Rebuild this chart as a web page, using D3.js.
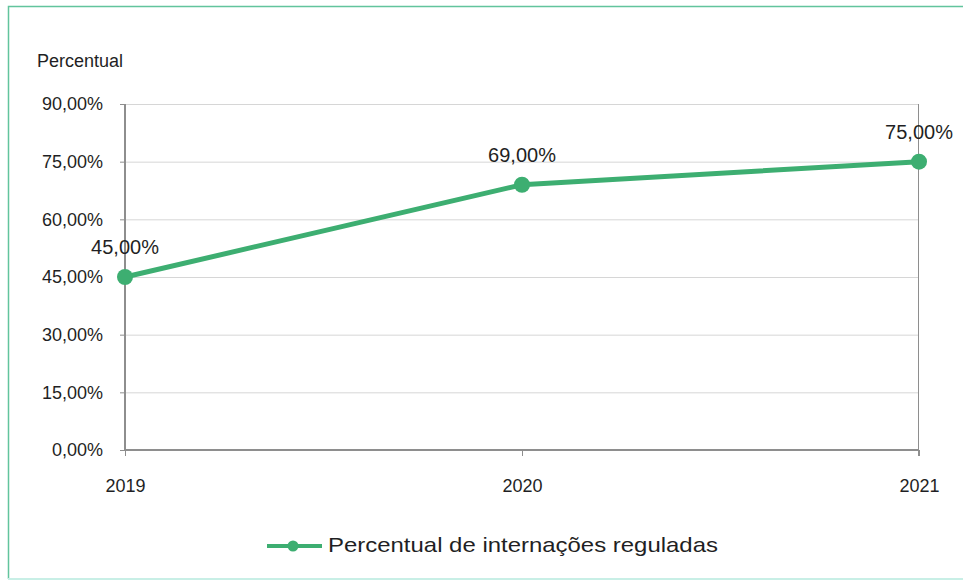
<!DOCTYPE html>
<html>
<head>
<meta charset="utf-8">
<script src="https://cdn.jsdelivr.net/npm/d3@7"></script>
<style>
  body { margin: 0; background: #fff; }
  svg { display: block; font-family: 'Liberation Sans', Arial, sans-serif; }
</style>
</head>
<body>
<div id="graph"></div>
<script>
const years = ['2019', '2020', '2021'];
const values = [45, 69, 75];
const yTicks = [0, 15, 30, 45, 60, 75, 90];
const seriesName = 'Percentual de internações reguladas';
const yTitle = 'Percentual';

const W = 963, H = 581;
let margin = { top: 104, right: 44, bottom: 131, left: 125 },
  width = W - margin.left - margin.right,
  height = H - margin.top - margin.bottom;

const green = '#3dae71';
const axisGrey = '#8e8e8e';
const textColor = '#1f1f24';
const fmt = (v) => v.toFixed(2).replace('.', ',') + '%';

let svg = d3.select('#graph').append('svg').attr('width', W).attr('height', H);

// outer frame (left / top green, bottom pale)
svg.append('path')
  .attr('d', 'M8.5,' + (H - 2) + 'V6.5H' + W)
  .attr('fill', 'none')
  .attr('stroke', '#62c49d')
  .attr('stroke-width', 1.5);
svg.append('line')
  .attr('x1', 8).attr('x2', W)
  .attr('y1', H - 2).attr('y2', H - 2)
  .attr('stroke', '#c8efe6')
  .attr('stroke-width', 2);

let xScale = d3.scalePoint().domain(years).range([0, width]);
let yScale = d3.scaleLinear().domain([0, 90]).range([height, 0]);

let vis = svg.append('g')
  .attr('transform', 'translate(' + margin.left + ',' + margin.top + ')');

// gridlines
vis.append('g')
  .selectAll('line')
  .data(yTicks.filter((t) => t > 0))
  .join('line')
  .attr('x1', 0).attr('x2', width)
  .attr('y1', (d) => yScale(d) + 0.5).attr('y2', (d) => yScale(d) + 0.5)
  .attr('stroke', '#d6d6d6');

// right border of plot area
vis.append('line')
  .attr('x1', width - 0.5).attr('x2', width - 0.5)
  .attr('y1', 0).attr('y2', height + 6)
  .attr('stroke', axisGrey);

let yAxis = d3.axisLeft(yScale).tickValues(yTicks).tickFormat(fmt).tickSize(5).tickPadding(17);
let gy = vis.append('g').call(yAxis);
gy.select('.domain').attr('stroke', axisGrey).attr('stroke-width', 2).attr('d', 'M0,0V' + height);
gy.selectAll('.tick line').attr('stroke', axisGrey);
gy.selectAll('.tick text').attr('font-size', 18).attr('fill', textColor);

let xAxis = d3.axisBottom(xScale).tickSize(6).tickPadding(23);
let gx = vis.append('g').attr('transform', 'translate(0,' + height + ')').call(xAxis);
gx.select('.domain').attr('stroke', axisGrey).attr('stroke-width', 2).attr('d', 'M0,0H' + width);
gx.selectAll('.tick line').attr('stroke', axisGrey);
gx.selectAll('.tick text').attr('font-size', 18).attr('fill', textColor);

svg.append('text')
  .attr('x', 37).attr('y', 67)
  .attr('font-size', 18).attr('fill', textColor)
  .text(yTitle);

let data = years.map((y, i) => ({ year: y, value: values[i] }));

let line = d3.line()
  .x((d) => xScale(d.year))
  .y((d) => yScale(d.value));

vis.append('path')
  .datum(data)
  .attr('fill', 'none')
  .attr('stroke', green)
  .attr('stroke-width', 5)
  .attr('stroke-linejoin', 'round')
  .attr('d', line);

vis.selectAll('circle.pt')
  .data(data)
  .join('circle')
  .attr('class', 'pt')
  .attr('cx', (d) => xScale(d.year))
  .attr('cy', (d) => yScale(d.value))
  .attr('r', 8)
  .attr('fill', green);

// value labels
vis.selectAll('text.lbl')
  .data(data)
  .join('text')
  .attr('class', 'lbl')
  .attr('x', (d) => xScale(d.year))
  .attr('y', (d) => yScale(d.value) - 23)
  .attr('text-anchor', 'middle')
  .attr('font-size', 20)
  .attr('fill', textColor)
  .text((d) => fmt(d.value));

// legend
let legend = svg.append('g').attr('transform', 'translate(267,546)');
legend.append('line')
  .attr('x1', 0).attr('x2', 55)
  .attr('stroke', green).attr('stroke-width', 4);
legend.append('circle').attr('cx', 26).attr('r', 5.5).attr('fill', green);
let legText = legend.append('text')
  .attr('x', 61).attr('y', 6)
  .attr('font-size', 21).attr('fill', textColor)
  .text(seriesName);
// the original legend font renders a bit wider than Liberation Sans
let natural = legText.node().getComputedTextLength();
legText.attr('textLength', natural * 1.14).attr('lengthAdjust', 'spacingAndGlyphs');
</script>
</body>
</html>
